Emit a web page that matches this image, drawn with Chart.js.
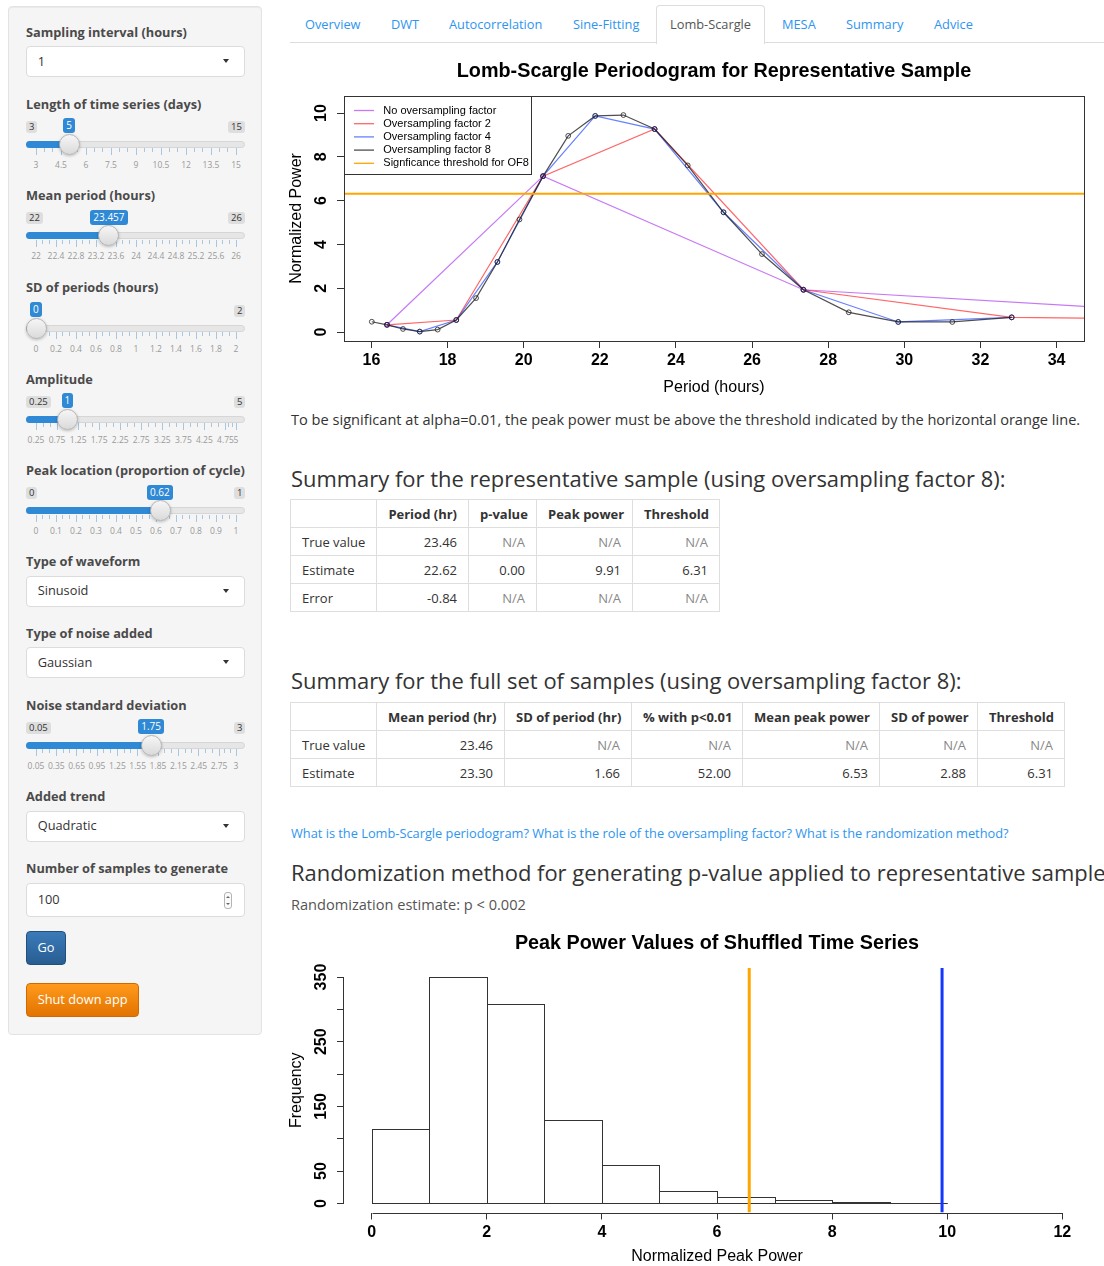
<!DOCTYPE html>
<html lang="en">
<head>
<meta charset="utf-8">
<title>Lomb-Scargle</title>
<script src="https://cdn.jsdelivr.net/npm/chart.js@4.4.1/dist/chart.umd.min.js"></script>
<style>
  html, body { margin: 0; padding: 0; background: #fff; }
  body { position: relative; width: 1104px; height: 1266px; overflow: hidden; font-family: 'Open Sans', sans-serif; color: #333; }
  .t { position: absolute; white-space: nowrap; line-height: 1; z-index: 3; }
  .panel { position: absolute; left: 8px; top: 6px; width: 252px; height: 1027px; background: #f5f5f5; border: 1px solid #e3e3e3; border-radius: 4px; box-shadow: inset 0 1px 1px rgba(0,0,0,.05); }
  .lbl { font-weight: 700; color: #4a4a4a; }
  .field { position: absolute; left: 26px; width: 217px; background: #fff; border: 1px solid #dcdcdc; border-radius: 4px; z-index: 1; }
  .caret { position: absolute; width: 0; height: 0; border-left: 3.5px solid transparent; border-right: 3.5px solid transparent; border-top: 4px solid #333; }
  .spin { position: absolute; left: 197px; top: 8px; width: 6px; height: 15px; border: 1px solid #b5b5b5; border-radius: 3px; background: #fafafa; }
  .spin:before, .spin:after { content: ''; position: absolute; left: 1px; width: 0; height: 0; border-left: 2px solid transparent; border-right: 2px solid transparent; }
  .spin:before { top: 3px; border-bottom: 2px solid #666; }
  .spin:after { bottom: 3px; border-top: 2px solid #666; }
  .trk { position: absolute; left: 26px; width: 217px; height: 5px; background: #e6e6e6; border: 1px solid #d6d6d6; border-radius: 4px; z-index: 1; }
  .fill { position: absolute; left: 26px; height: 7px; background: #2f89d4; border-radius: 4px 0 0 4px; z-index: 1; }
  .hdl { position: absolute; width: 19px; height: 19px; border-radius: 50%; background: linear-gradient(#f6f6f6, #dadada); border: 1px solid #b3b3b3; box-shadow: 0 1px 3px rgba(0,0,0,.25); z-index: 2; }
  .vbox { position: absolute; height: 15px; line-height: 15px; padding: 0 3px; font-size: 10px; color: #fff; background: #2f89d4; border-radius: 3px; white-space: nowrap; z-index: 2; }
  .mbox { position: absolute; height: 12px; line-height: 12px; padding: 0 3px; font-size: 9.5px; color: #333; background: #dedede; border-radius: 3px; white-space: nowrap; z-index: 2; }
  .gt { position: absolute; width: 1px; background: #a9c6e0; z-index: 1; }
  .gl { position: absolute; font-size: 8.5px; line-height: 9px; color: #999; white-space: nowrap; transform: translateX(-50%); z-index: 1; }
  .btn { position: absolute; left: 26px; border-radius: 4px; box-sizing: border-box; z-index: 1; }
  .go { top: 931px; width: 40px; height: 34px; background: linear-gradient(#3b7bb9, #285d91); border: 1px solid #234f7c; }
  .stop { top: 983px; width: 113px; height: 34px; background: linear-gradient(#ff9a1c, #e27300); border: 1px solid #d06a00; }
  .white { color: #fff; }
  .tabline { position: absolute; left: 290px; top: 42px; width: 814px; height: 1px; background: #ddd; }
  .tabact { position: absolute; left: 656px; top: 5px; width: 107px; height: 38px; background: #fff; border: 1px solid #ddd; border-bottom: none; border-radius: 4px 4px 0 0; }
  .tab { color: #2e95ef; }
  .tab.act { color: #555; }
  .link { color: #2e95ef; }
  .tb { position: absolute; border-collapse: collapse; table-layout: fixed; font-size: 13px; color: #333; }
  .tb tr { height: 28px; }
  .tb td, .tb th { border: 1px solid #dedede; padding: 0 11px; text-align: right; white-space: nowrap; overflow: visible; }
  .tb th { font-weight: 700; }
  .tb td:first-child { text-align: left; }
  .tb .na { color: #888; }
  .cv { position: absolute; }
</style>
</head>
<body>

<div class="panel"></div>

<!-- sidebar inputs -->
<div class="t lbl" data-x="26" data-cy="32.8" data-fs="13" data-fsof="lblPeak">Sampling interval (hours)</div>
<div class="field" style="top:46px;height:29px"><div class="caret" style="left:195.7px;top:12.3px"></div></div>
<div class="t" data-x="37.7" data-cy="61.7" data-fs="14" data-fsof="selQuad">1</div>

<div class="t lbl" data-x="26" data-cy="104.6" data-fs="13" data-fsof="lblPeak">Length of time series (days)</div>
<div class="t lbl" data-x="26" data-cy="196.2" data-fs="13" data-fsof="lblPeak">Mean period (hours)</div>
<div class="t lbl" data-x="26" data-cy="288" data-fs="13" data-fsof="lblPeak">SD of periods (hours)</div>
<div class="t lbl" data-x="26" data-cy="379.4" data-fs="13" data-fsof="lblPeak">Amplitude</div>
<div class="t lbl" id="lblPeak" data-x="26" data-cy="470.7" data-fs="13" data-w="219">Peak location (proportion of cycle)</div>

<div class="t lbl" data-x="26" data-cy="562" data-fs="13" data-fsof="lblPeak">Type of waveform</div>
<div class="field" style="top:576px;height:29px"><div class="caret" style="left:195.7px;top:12.3px"></div></div>
<div class="t" data-x="37.7" data-cy="591" data-fs="14" data-fsof="selQuad">Sinusoid</div>

<div class="t lbl" data-x="26" data-cy="634" data-fs="13" data-fsof="lblPeak">Type of noise added</div>
<div class="field" style="top:647px;height:29px"><div class="caret" style="left:195.7px;top:12.3px"></div></div>
<div class="t" data-x="37.7" data-cy="663" data-fs="14" data-fsof="selQuad">Gaussian</div>

<div class="t lbl" data-x="26" data-cy="705.5" data-fs="13" data-fsof="lblPeak">Noise standard deviation</div>

<div class="t lbl" data-x="26" data-cy="797" data-fs="13" data-fsof="lblPeak">Added trend</div>
<div class="field" style="top:811px;height:29px"><div class="caret" style="left:195.7px;top:12.3px"></div></div>
<div class="t" id="selQuad" data-x="37.7" data-cy="826" data-fs="14" data-w="59">Quadratic</div>

<div class="t lbl" data-x="26" data-cy="869" data-fs="13" data-fsof="lblPeak">Number of samples to generate</div>
<div class="field" style="top:883px;height:32px"><div class="spin"></div></div>
<div class="t" data-x="37.7" data-cy="900" data-fs="14" data-fsof="selQuad">100</div>

<div class="btn go"></div>
<div class="t white" data-x="37.4" data-cy="948" data-fs="14" data-fsof="btnStop">Go</div>
<div class="btn stop"></div>
<div class="t white" id="btnStop" data-x="37.7" data-cy="1000" data-fs="14" data-w="90">Shut down app</div>

<!-- tab strip -->
<div class="tabline"></div>
<div class="tabact"></div>
<div class="t tab" data-x="305" data-cy="24.5" data-fs="13" data-fsof="tabAuto">Overview</div>
<div class="t tab" data-x="391" data-cy="24.5" data-fs="13" data-fsof="tabAuto">DWT</div>
<div class="t tab" id="tabAuto" data-x="449" data-cy="24.5" data-fs="13" data-w="93.5">Autocorrelation</div>
<div class="t tab" data-x="573" data-cy="24.5" data-fs="13" data-fsof="tabAuto">Sine-Fitting</div>
<div class="t tab act" data-x="670" data-cy="24.5" data-fs="13" data-fsof="tabAuto">Lomb-Scargle</div>
<div class="t tab" data-x="782" data-cy="24.5" data-fs="13" data-fsof="tabAuto">MESA</div>
<div class="t tab" data-x="846" data-cy="24.5" data-fs="13" data-fsof="tabAuto">Summary</div>
<div class="t tab" data-x="934" data-cy="24.5" data-fs="13" data-fsof="tabAuto">Advice</div>

<!-- periodogram -->
<div class="cv" style="left:285px;top:50px;width:819px;height:355px"><canvas id="lsChart"></canvas></div>

<div class="t" data-x="291" data-cy="420" data-fs="14" data-w="790">To be significant at alpha=0.01, the peak power must be above the threshold indicated by the horizontal orange line.</div>

<div class="t" id="h3a" data-x="291" data-cy="479.5" data-fs="22" data-w="715">Summary for the representative sample (using oversampling factor 8):</div>

<table class="tb" style="left:290px;top:499px;width:429px">
  <colgroup><col style="width:86px"><col style="width:92px"><col style="width:68px"><col style="width:96px"><col style="width:87px"></colgroup>
  <tr><th></th><th>Period (hr)</th><th>p-value</th><th>Peak power</th><th>Threshold</th></tr>
  <tr><td>True value</td><td>23.46</td><td class="na">N/A</td><td class="na">N/A</td><td class="na">N/A</td></tr>
  <tr><td>Estimate</td><td>22.62</td><td>0.00</td><td>9.91</td><td>6.31</td></tr>
  <tr><td>Error</td><td>-0.84</td><td class="na">N/A</td><td class="na">N/A</td><td class="na">N/A</td></tr>
</table>

<div class="t" data-x="291" data-cy="681.5" data-fs="22" data-w="671">Summary for the full set of samples (using oversampling factor 8):</div>

<table class="tb" style="left:290px;top:702px;width:774px">
  <colgroup><col style="width:86px"><col style="width:128px"><col style="width:127px"><col style="width:111px"><col style="width:137px"><col style="width:98px"><col style="width:87px"></colgroup>
  <tr><th></th><th>Mean period (hr)</th><th>SD of period (hr)</th><th>% with p&lt;0.01</th><th>Mean peak power</th><th>SD of power</th><th>Threshold</th></tr>
  <tr><td>True value</td><td>23.46</td><td class="na">N/A</td><td class="na">N/A</td><td class="na">N/A</td><td class="na">N/A</td><td class="na">N/A</td></tr>
  <tr><td>Estimate</td><td>23.30</td><td>1.66</td><td>52.00</td><td>6.53</td><td>2.88</td><td>6.31</td></tr>
</table>

<div class="t link" data-x="291" data-cy="834" data-fs="13" data-w="718">What is the Lomb-Scargle periodogram? What is the role of the oversampling factor? What is the randomization method?</div>
<div class="t" data-x="291" data-cy="873.5" data-fs="22" data-fsof="h3a">Randomization method for generating p-value applied to representative sample</div>
<div class="t" data-x="291" data-cy="905" data-fs="14" data-w="235" style="color:#555">Randomization estimate: p &lt; 0.002</div>

<!-- randomization histogram -->
<div class="cv" style="left:285px;top:925px;width:819px;height:343px"><canvas id="histChart"></canvas></div>

<script>
// ---------------- Lomb-Scargle periodogram (period in hours, normalized power) ----------------
const periodsOF1 = [16.41, 20.51, 27.35, 41.02];
const powerOF1   = [0.33, 7.12, 1.93, 0.53];
const periodsOF2 = [16.41, 18.23, 20.51, 23.44, 27.35, 32.82, 41.02];
const powerOF2   = [0.33, 0.55, 7.12, 9.27, 1.93, 0.67, 0.53];
const periodsOF4 = [16.41, 17.27, 18.23, 19.31, 20.51, 21.88, 23.44, 25.25, 27.35, 29.84, 32.82];
const powerOF4   = [0.33, 0.02, 0.55, 3.20, 7.12, 9.87, 9.27, 5.47, 1.93, 0.46, 0.67];
const periodsOF8 = [16.01, 16.41, 16.83, 17.27, 17.74, 18.23, 18.75, 19.31, 19.89, 20.51, 21.17,
                    21.88, 22.62, 23.44, 24.31, 25.25, 26.26, 27.35, 28.54, 29.84, 31.26, 32.82];
const powerOF8   = [0.47, 0.33, 0.14, 0.02, 0.11, 0.55, 1.55, 3.20, 5.14, 7.12, 8.96,
                    9.87, 9.91, 9.27, 7.61, 5.47, 3.56, 1.93, 0.90, 0.46, 0.46, 0.67];
const thresholdOF8 = 6.31;
const periodRange = [15.28, 34.72];
const powerRange = [-0.41, 10.78];
const periodTickLabels = [16, 18, 20, 22, 24, 26, 28, 30, 32, 34];
const powerTickLabels = [0, 2, 4, 6, 8, 10];

// ---------------- peak powers of the shuffled series ----------------
const binStarts = [0, 1, 2, 3, 4, 5, 6, 7, 8, 9];
const binCounts = [115, 350, 308, 129, 59, 20, 10, 6, 2, 1];
const binWidth = 1;
const shuffledThreshold = 6.56;
const observedPeak = 9.91;
const peakRange = [-0.48, 12.48];
const freqRange = [-14, 364];
const peakTickLabels = [0, 2, 4, 6, 8, 10, 12];
const freqTicks = [0, 50, 100, 150, 200, 250, 300, 350];
const freqTickLabels = [0, 50, 150, 250, 350];

// ---------------- sidebar sliders ----------------
const sliderSpecs = [
  { cy: 104.2, min: 3,    max: 15, value: 5,      grid: [3, 4.5, 6, 7.5, 9, 10.5, 12, 13.5, 15] },
  { cy: 195.7, min: 22,   max: 26, value: 23.457, grid: [22, 22.4, 22.8, 23.2, 23.6, 24, 24.4, 24.8, 25.2, 25.6, 26] },
  { cy: 288,   min: 0,    max: 2,  value: 0,      grid: [0, 0.2, 0.4, 0.6, 0.8, 1, 1.2, 1.4, 1.6, 1.8, 2] },
  { cy: 379,   min: 0.25, max: 5,  value: 1,      grid: [0.25, 0.75, 1.25, 1.75, 2.25, 2.75, 3.25, 3.75, 4.25, 4.75, 5] },
  { cy: 470.7, min: 0,    max: 1,  value: 0.62,   grid: [0, 0.1, 0.2, 0.3, 0.4, 0.5, 0.6, 0.7, 0.8, 0.9, 1] },
  { cy: 705.3, min: 0.05, max: 3,  value: 1.75,   grid: [0.05, 0.35, 0.65, 0.95, 1.25, 1.55, 1.85, 2.15, 2.45, 2.75, 3] }
];

function addDiv(cls, css, text) {
  const d = document.createElement('div');
  d.className = cls;
  Object.assign(d.style, css);
  if (text !== undefined) d.textContent = text;
  document.body.appendChild(d);
  return d;
}

sliderSpecs.forEach(s => {
  const L = s.cy, x0 = 36, x1 = 236;
  const px = v => x0 + (v - s.min) / (s.max - s.min) * (x1 - x0);
  const hx = px(s.value);
  addDiv('trk', { top: (L + 36.5) + 'px' });
  addDiv('fill', { top: (L + 36.5) + 'px', width: (hx - 26) + 'px' });
  s.grid.forEach((g, i) => {
    const gx = px(g);
    addDiv('gt', { left: (gx - 0.5) + 'px', top: (L + 44) + 'px', height: '7px' });
    addDiv('gl', { left: gx + 'px', top: (L + 55.5) + 'px' }, String(g));
    if (i < s.grid.length - 1) {
      const nx = px(s.grid[i + 1]);
      for (let k = 1; k <= 2; k++) {
        const mx = gx + (nx - gx) * k / 3;
        addDiv('gt', { left: (mx - 0.5) + 'px', top: (L + 44) + 'px', height: '4px' });
      }
    }
  });
  const vb = addDiv('vbox', { top: (L + 14) + 'px' }, String(s.value));
  vb.style.left = (hx - vb.offsetWidth / 2) + 'px';
  const mn = addDiv('mbox', { left: '26px', top: (L + 16.5) + 'px' }, String(s.min));
  const mx = addDiv('mbox', { top: (L + 16.5) + 'px' }, String(s.max));
  mx.style.left = (245 - mx.offsetWidth) + 'px';
  const vl = hx - vb.offsetWidth / 2, vr = hx + vb.offsetWidth / 2;
  if (vl < 26 + mn.offsetWidth + 2) mn.style.visibility = 'hidden';
  if (vr > 245 - mx.offsetWidth - 2) mx.style.visibility = 'hidden';
  addDiv('hdl', { left: (hx - 10.5) + 'px', top: (L + 29.5) + 'px' });
});

// ---------------- text placement: fit widths, then centre on the given line ----------------
function placeText() {
  const els = Array.from(document.querySelectorAll('.t'));
  els.forEach(e => {
    let fs = parseFloat(e.dataset.fs);
    e.style.fontSize = fs + 'px';
    if (e.dataset.w) {
      const w = e.getBoundingClientRect().width;
      fs = fs * parseFloat(e.dataset.w) / w;
      e.style.fontSize = fs + 'px';
    }
    e.dataset.fsOut = fs;
  });
  els.forEach(e => {
    if (e.dataset.fsof) {
      const src = document.getElementById(e.dataset.fsof);
      e.dataset.fsOut = src.dataset.fsOut;
      e.style.fontSize = src.dataset.fsOut + 'px';
    }
    const fs = parseFloat(e.dataset.fsOut);
    e.style.left = e.dataset.x + 'px';
    e.style.top = (parseFloat(e.dataset.cy) - 0.53 * fs) + 'px';
  });
}
placeText();
if (document.fonts && document.fonts.ready) document.fonts.ready.then(placeText);

// ---------------- chart helpers ----------------
Chart.defaults.font.family = "'Liberation Sans', Arial, sans-serif";
Chart.defaults.color = '#000';
Chart.defaults.animation = false;

const tickFont = { family: "'Liberation Sans', Arial, sans-serif", size: 16, weight: 'bold' };
const axisTitleFont = { family: "'Liberation Sans', Arial, sans-serif", size: 16, weight: 'normal' };
const mainTitleFont = { family: "'Liberation Sans', Arial, sans-serif", size: 19.8, weight: 'bold' };

// y tick labels written parallel to the axis
const rotatedYTicks = {
  id: 'rotatedYTicks',
  afterDraw(chart, args, opts) {
    const s = chart.scales.y, ctx = chart.ctx;
    ctx.save();
    ctx.font = 'bold 16px "Liberation Sans", Arial, sans-serif';
    ctx.fillStyle = '#000';
    ctx.textAlign = 'center';
    ctx.textBaseline = 'middle';
    s.ticks.forEach(t => {
      if (opts.labels && !opts.labels.includes(t.value)) return;
      ctx.save();
      ctx.translate(opts.x, s.getPixelForValue(t.value));
      ctx.rotate(-Math.PI / 2);
      ctx.fillText(String(t.value), 0, 0);
      ctx.restore();
    });
    ctx.restore();
  }
};

const plotFrame = {
  id: 'plotFrame',
  afterDraw(chart) {
    const { ctx, chartArea: a } = chart;
    ctx.save();
    ctx.strokeStyle = '#333';
    ctx.lineWidth = 1;
    ctx.strokeRect(Math.round(a.left) + 0.5, Math.round(a.top) + 0.5, Math.round(a.right - a.left), Math.round(a.bottom - a.top));
    ctx.restore();
  }
};

const boxLegend = {
  id: 'boxLegend',
  afterDraw(chart) {
    const { ctx, chartArea: a } = chart;
    ctx.save();
    ctx.strokeStyle = '#333';
    ctx.lineWidth = 1;
    ctx.strokeRect(Math.round(a.left) + 0.5, Math.round(a.top) + 0.5, 187, 78);
    ctx.font = '11px "Liberation Sans", Arial, sans-serif';
    ctx.textBaseline = 'middle';
    ctx.textAlign = 'left';
    chart.data.datasets.forEach((ds, i) => {
      const y = a.top + 14.5 + i * 13.2;
      ctx.strokeStyle = ds.borderColor;
      ctx.lineWidth = 1.3;
      ctx.beginPath();
      ctx.moveTo(a.left + 10, y);
      ctx.lineTo(a.left + 30, y);
      ctx.stroke();
      ctx.fillStyle = '#000';
      ctx.fillText(ds.label, a.left + 39.3, y);
    });
    ctx.restore();
  }
};

const pts = (xs, ys) => xs.map((x, i) => ({ x, y: ys[i] }));

const seriesStyle = (color, order) => ({
  borderColor: color, borderWidth: 1.2, showLine: true,
  pointRadius: 2.4, pointBorderWidth: 1, pointBorderColor: color,
  pointBackgroundColor: 'rgba(0,0,0,0)', order
});

new Chart(document.getElementById('lsChart'), {
  type: 'scatter',
  data: {
    datasets: [
      Object.assign({ label: 'No oversampling factor', data: pts(periodsOF1, powerOF1) }, seriesStyle('rgba(160,32,240,0.6)', 4)),
      Object.assign({ label: 'Oversampling factor 2', data: pts(periodsOF2, powerOF2) }, seriesStyle('rgba(255,0,0,0.6)', 3)),
      Object.assign({ label: 'Oversampling factor 4', data: pts(periodsOF4, powerOF4) }, seriesStyle('rgba(20,60,255,0.65)', 2)),
      Object.assign({ label: 'Oversampling factor 8', data: pts(periodsOF8, powerOF8) }, seriesStyle('rgba(30,30,30,0.78)', 1)),
      { label: 'Signficance threshold for OF8',
        data: [{ x: periodRange[0], y: thresholdOF8 }, { x: periodRange[1], y: thresholdOF8 }],
        borderColor: '#FFA500', borderWidth: 2, showLine: true, pointRadius: 0, order: 0 }
    ]
  },
  options: {
    responsive: true, maintainAspectRatio: false, devicePixelRatio: 1, events: [],
    layout: { padding: { left: 0, right: 20, top: 0, bottom: 0 } },
    plugins: {
      legend: { display: false }, tooltip: { enabled: false },
      title: { display: true, text: 'Lomb-Scargle Periodogram for Representative Sample', font: mainTitleFont,
               color: '#000', fullSize: false, padding: { top: 10.1, bottom: 12.14 } },
      rotatedYTicks: { x: 37 }
    },
    scales: {
      x: {
        type: 'linear', min: periodRange[0], max: periodRange[1],
        afterBuildTicks: s => { s.ticks = periodTickLabels.map(v => ({ value: v })); },
        afterFit: s => { s.height = 64; },
        grid: { drawOnChartArea: false, drawTicks: true, tickLength: 7, color: '#333', offset: false },
        border: { display: false },
        ticks: { font: tickFont, color: '#000', padding: 2.5, maxRotation: 0, autoSkip: false },
        title: { display: true, text: 'Period (hours)', font: axisTitleFont, color: '#000', padding: { top: 0, bottom: 7.6 } }
      },
      y: {
        type: 'linear', min: powerRange[0], max: powerRange[1],
        afterBuildTicks: s => { s.ticks = powerTickLabels.map(v => ({ value: v })); },
        afterFit: s => { s.width = 59; },
        grid: { drawOnChartArea: false, drawTicks: true, tickLength: 7, color: '#333' },
        border: { display: false },
        ticks: { font: tickFont, color: 'rgba(0,0,0,0)', padding: 0, autoSkip: false },
        title: { display: true, text: 'Normalized Power', font: axisTitleFont, color: '#000', padding: { top: 2.4, bottom: 0 } }
      }
    }
  },
  plugins: [plotFrame, boxLegend, rotatedYTicks]
});

// histogram bars outlined as closed rectangles, axes spanning only the tick range
const barOutline = {
  id: 'barOutline',
  afterDatasetDraw(chart, args) {
    if (args.meta.type !== 'bar') return;
    const ctx = chart.ctx;
    ctx.save();
    ctx.strokeStyle = '#333';
    ctx.lineWidth = 1;
    args.meta.data.forEach(el => {
      const p = el.getProps(['x', 'y', 'base', 'width'], true);
      const left = Math.round(p.x - p.width / 2) + 0.5;
      const right = Math.round(p.x + p.width / 2) + 0.5;
      const top = Math.round(Math.min(p.y, p.base)) + 0.5;
      const bottom = Math.round(Math.max(p.y, p.base)) + 0.5;
      ctx.strokeRect(left, top, right - left, bottom - top);
    });
    ctx.restore();
  }
};

const rAxes = {
  id: 'rAxes',
  afterDraw(chart) {
    const { ctx, chartArea: a, scales: { x, y } } = chart;
    ctx.save();
    ctx.strokeStyle = '#333';
    ctx.lineWidth = 1;
    ctx.beginPath();
    const yb = Math.round(a.bottom) + 0.5;
    ctx.moveTo(Math.round(x.getPixelForValue(peakTickLabels[0])) + 0.5, yb);
    ctx.lineTo(Math.round(x.getPixelForValue(peakTickLabels[peakTickLabels.length - 1])) + 0.5, yb);
    const xl = Math.round(a.left) - 0.5;
    ctx.moveTo(xl, Math.round(y.getPixelForValue(freqTicks[0])) + 0.5);
    ctx.lineTo(xl, Math.round(y.getPixelForValue(freqTicks[freqTicks.length - 1])) + 0.5);
    ctx.stroke();
    ctx.restore();
  }
};

new Chart(document.getElementById('histChart'), {
  type: 'bar',
  data: {
    datasets: [
      { type: 'line', label: 'Threshold', data: [{ x: shuffledThreshold, y: freqRange[0] }, { x: shuffledThreshold, y: freqRange[1] }],
        borderColor: '#FFA500', borderWidth: 3, pointRadius: 0, order: 0 },
      { type: 'line', label: 'Observed peak', data: [{ x: observedPeak, y: freqRange[0] }, { x: observedPeak, y: freqRange[1] }],
        borderColor: '#1437FF', borderWidth: 3, pointRadius: 0, order: 0 },
      { type: 'bar', label: 'Frequency', data: binStarts.map((b, i) => ({ x: b + binWidth / 2, y: binCounts[i] })),
        backgroundColor: '#fff', borderWidth: 0, barPercentage: 1, categoryPercentage: 1, order: 1 }
    ]
  },
  options: {
    responsive: true, maintainAspectRatio: false, devicePixelRatio: 1, events: [],
    layout: { padding: { left: 0, right: 14, top: 0, bottom: 0 } },
    plugins: {
      legend: { display: false }, tooltip: { enabled: false },
      title: { display: true, text: 'Peak Power Values of Shuffled Time Series', font: mainTitleFont,
               color: '#000', fullSize: false, padding: { top: 7.1, bottom: 12.14 } },
      rotatedYTicks: { x: 37, labels: freqTickLabels }
    },
    scales: {
      x: {
        type: 'linear', min: peakRange[0], max: peakRange[1], offset: false,
        afterBuildTicks: s => { s.ticks = peakTickLabels.map(v => ({ value: v })); },
        afterFit: s => { s.height = 55.5; },
        grid: { drawOnChartArea: false, drawTicks: true, tickLength: 7, color: '#333', offset: false },
        border: { display: false },
        ticks: { font: tickFont, color: '#000', padding: 3.4, maxRotation: 0, autoSkip: false },
        title: { display: true, text: 'Normalized Peak Power', font: axisTitleFont, color: '#000', padding: { top: 0, bottom: 1.4 } }
      },
      y: {
        type: 'linear', min: freqRange[0], max: freqRange[1],
        afterBuildTicks: s => { s.ticks = freqTicks.map(v => ({ value: v })); },
        afterFit: s => { s.width = 59; },
        grid: { drawOnChartArea: false, drawTicks: true, tickLength: 7, color: '#333' },
        border: { display: false },
        ticks: { font: tickFont, color: 'rgba(0,0,0,0)', padding: 0, autoSkip: false },
        title: { display: true, text: 'Frequency', font: axisTitleFont, color: '#000', padding: { top: 2.4, bottom: 0 } }
      }
    }
  },
  plugins: [barOutline, rAxes, rotatedYTicks]
});
</script>
</body>
</html>
